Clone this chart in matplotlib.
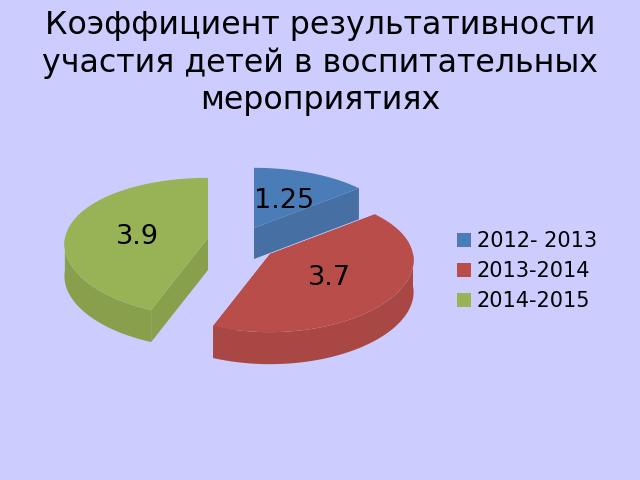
import numpy as np
import matplotlib
matplotlib.use('Agg')
import matplotlib.pyplot as plt
from matplotlib.patches import Patch

title = 'Коэффициент результативности\nучастия детей в воспитательных\nмероприятиях'
years = ['2012- 2013', '2013-2014', '2014-2015']
values = [1.25, 3.7, 3.9]
value_labels = ['1.25', '3.7', '3.9']

top_colors = ['#4A7CB8', '#B84D4A', '#98B355']
side_colors = ['#466FA3', '#A94744', '#88A04C']
centers = [(254, 228), (270, 254), (208, 238)]
label_pos = [(284, 201), (329, 278), (137, 237)]
depths = [31, 32, 32]
rx, ry, persp_x, persp_y = 143, 68, 0.09, 0.13
bg = '#CCCCFF'


def project(theta, center):
    # theta clockwise from 12 o'clock, front of the pie is squeezed less
    v = -np.cos(theta)
    px = 1 / (1 - persp_x * v)
    py = 1 / (1 - persp_y * v)
    return center[0] + rx * np.sin(theta) * px, center[1] + ry * v * py


fig = plt.figure(figsize=(6.4, 4.8), dpi=100, facecolor=bg)
ax = fig.add_axes([0, 0, 1, 1])
ax.set_xlim(0, 640)
ax.set_ylim(480, 0)
ax.axis('off')

edges = np.concatenate([[0], np.cumsum(values)]) / np.sum(values) * 2 * np.pi

for i in range(len(values)):
    a0, a1 = edges[i], edges[i + 1]
    c = centers[i]
    d = depths[i]
    th = np.linspace(a0, a1, 120)
    x, y = project(th, c)

    # outer wall, only the part that faces the viewer
    front = th[(th >= np.pi / 2) & (th <= 3 * np.pi / 2)]
    if len(front) > 1:
        fx, fy = project(front, c)
        ax.fill(np.r_[fx, fx[::-1]], np.r_[fy, fy[::-1] + d],
                color=side_colors[i], lw=0, zorder=2)

    # cut faces
    for a in (a0, a1):
        ex, ey = project(a, c)
        if 0 < a < np.pi / 2 or np.pi < a < 3 * np.pi / 2:
            ax.fill([c[0], ex, ex, c[0]], [c[1], ey, ey + d, c[1] + d],
                    color=side_colors[i], lw=0, zorder=2)

    ax.fill(np.r_[c[0], x], np.r_[c[1], y], color=top_colors[i], lw=0, zorder=3)
    ax.text(label_pos[i][0], label_pos[i][1], value_labels[i], fontsize=19.5,
            ha='center', va='center', color='black', zorder=5)

ax.text(320, 63, title, fontsize=22.8, ha='center', va='center', color='black',
        linespacing=1.24)

handles = [Patch(color=c, lw=0) for c in top_colors]
ax.legend(handles, years, loc='center left', bbox_to_anchor=(457, 271),
          bbox_transform=ax.transData, frameon=False, fontsize=15,
          handlelength=0.65, handleheight=0.65, handletextpad=0.3,
          labelspacing=0.48, borderpad=0, borderaxespad=0)

fig.savefig('out.png', dpi=100, facecolor=bg)
